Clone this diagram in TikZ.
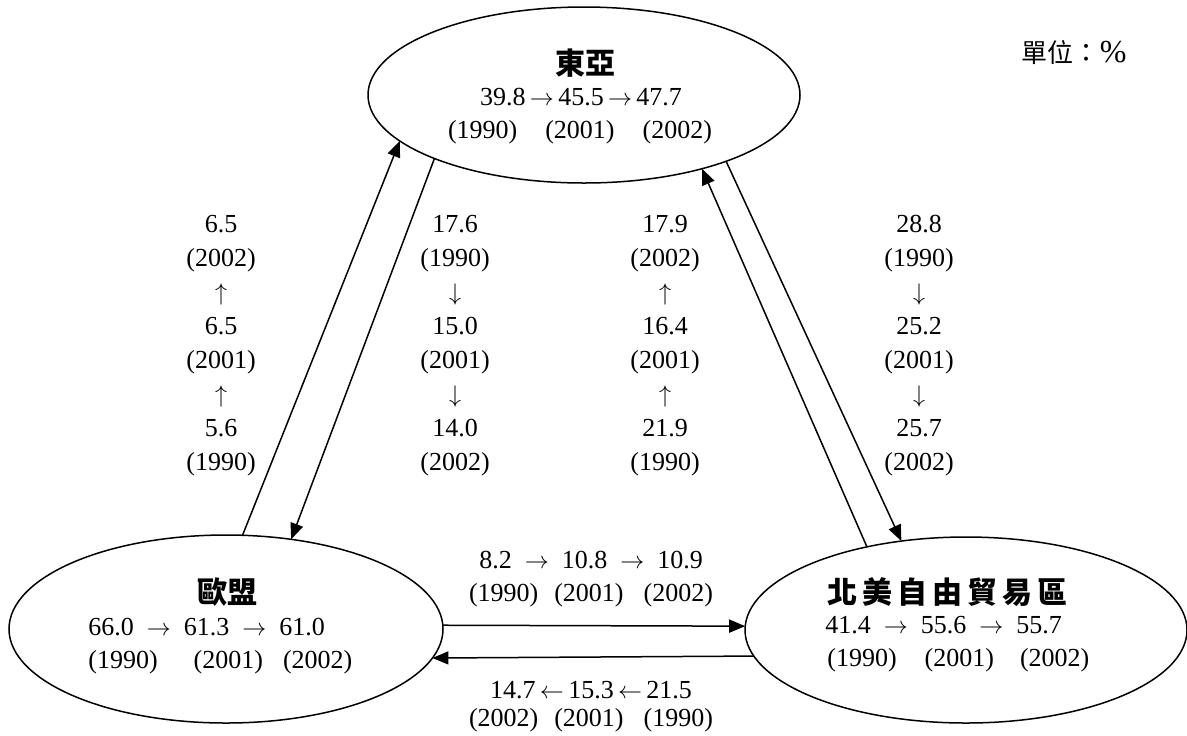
\documentclass[tikz,border=0pt]{standalone}
\usepackage{fontspec}
\setmainfont{Liberation Serif}
\newfontfamily\cjk{Noto Sans CJK TC}
\usetikzlibrary{shapes.geometric,arrows.meta}
\newcommand{\ra}{$\rightarrow$}
\newcommand{\la}{$\leftarrow$}
\newcommand{\ua}{$\uparrow$}
\newcommand{\da}{$\downarrow$}
\begin{document}
\begin{tikzpicture}[x=0.5pt,y=-0.5pt,
    every node/.style={font=\fontsize{13}{17}\selectfont,inner sep=0pt},
    region/.style={draw,ellipse,line width=0.75pt,outer sep=0pt},
    title/.style={font=\fontsize{15}{17}\selectfont\cjk\bfseries},
    flow/.style={-{Triangle[length=8pt,width=6.5pt]},line width=0.75pt},
    col/.style={align=center}]
    \useasboundingbox (0,0) rectangle (1187,735);
    % regions
    \node[region,minimum width=216pt,minimum height=88pt] (EA) at (584,95) {};
    \node[region,minimum width=217pt,minimum height=94pt] (EU) at (226,629) {};
    \node[region,minimum width=221pt,minimum height=93pt] (NA) at (966,630) {};
    \node[title] (EA0) at (585,63) {東亞};
    \node[] (EA1) at (581,97) {39.8\,\ra\,45.5\,\ra\,47.7};
    \node[] (EA2) at (580,132) {(1990)\hspace{14pt}(2001)\hspace{14pt}(2002)};
    \node[title] (EU0) at (227,592) {歐盟};
    \node[anchor=west] (EU1) at (88,627) {66.0\enspace\ra\enspace61.3\enspace\ra\enspace61.0};
    \node[anchor=west] (EU2) at (88,662) {(1990)\hspace{18pt}(2001)\hspace{10pt}(2002)};
    \node[title,anchor=west] (NA0) at (827,592) {北\,美\,自\,由\,貿\,易\,區};
    \node[anchor=west] (NA1) at (825,625) {41.4\enspace\ra\enspace55.6\enspace\ra\enspace55.7};
    \node[anchor=west] (NA2) at (827,660) {(1990)\hspace{14pt}(2001)\hspace{13pt}(2002)};
    \node[anchor=east] (U) at (1127,53) {{\cjk 單位：}{\fontsize{16}{17}\selectfont\%}};
    % connectors
    \draw[flow] (EU.80) -- (EA.194);
    \draw[flow] (EA.203) -- (EU.54);
    \draw[flow] (NA.140) -- (EA.328);
    \draw[flow] (EA.335) -- (NA.126);
    \draw[flow] (EU.1) -- (NA.179);
    \draw[flow] (NA.187) -- (EU.352.4);
    % values
    \node[col] (C1) at (221,346) {6.5\\(2002)\\\ua\\6.5\\(2001)\\\ua\\5.6\\(1990)};
    \node[col] (C2) at (455,346) {17.6\\(1990)\\\da\\15.0\\(2001)\\\da\\14.0\\(2002)};
    \node[col] (C3) at (665,346) {17.9\\(2002)\\\ua\\16.4\\(2001)\\\ua\\21.9\\(1990)};
    \node[col] (C4) at (919,346) {28.8\\(1990)\\\da\\25.2\\(2001)\\\da\\25.7\\(2002)};
    \node[] (B1) at (591,560) {8.2\enspace\ra\enspace10.8\enspace\ra\enspace10.9};
    \node[] (B2) at (591,595) {(1990)\hspace{8pt}(2001)\hspace{10pt}(2002)};
    \node[] (B3) at (591,690) {14.7\,\la\,15.3\,\la\,21.5};
    \node[] (B4) at (591,720) {(2002)\hspace{8pt}(2001)\hspace{10pt}(1990)};
\end{tikzpicture}
\end{document}
